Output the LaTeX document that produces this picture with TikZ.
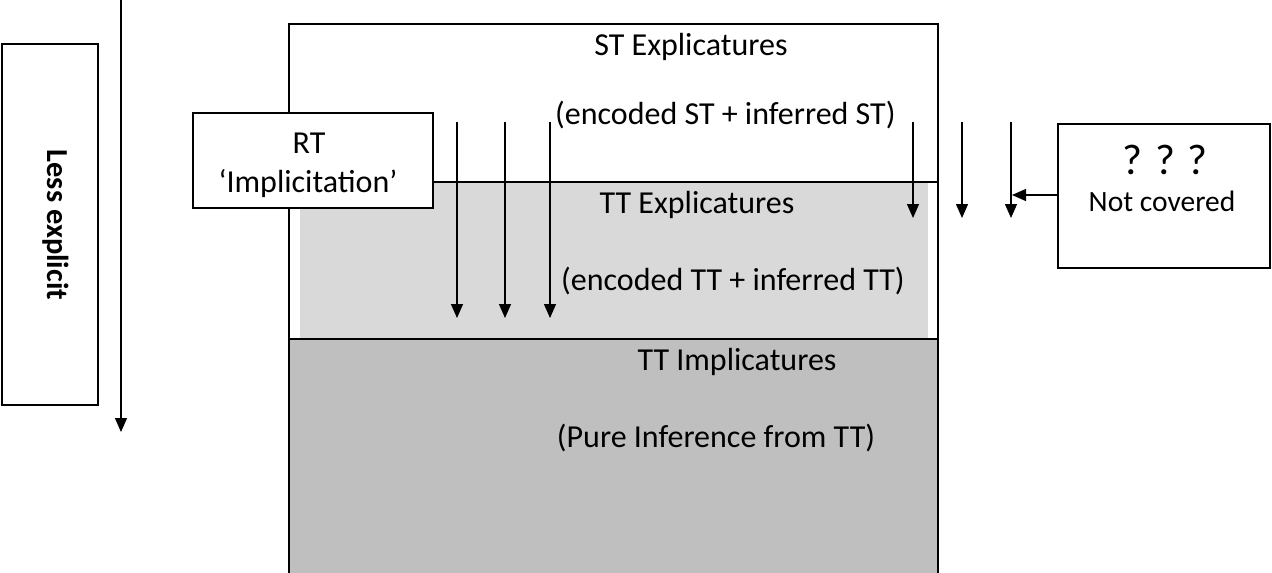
\documentclass[tikz,border=0pt]{standalone}
\usepackage{fontspec}
\setmainfont{Carlito}
\usetikzlibrary{arrows.meta}
\definecolor{lightband}{HTML}{D9D9D9}
\definecolor{darkband}{HTML}{BFBFBF}
\tikzset{
  frame/.style={draw=black, line width=1.6pt},
  label/.style={inner sep=0pt, anchor=base, font=\fontsize{32}{38}\selectfont},
  dnarrow/.style={line width=1.3pt, -{Triangle[width=12pt,length=14pt]}},
  textbox/.style={draw=black, line width=1.6pt, fill=white, inner sep=0pt}
}
\begin{document}
\begin{tikzpicture}[x=1pt, y=-1pt]
\useasboundingbox (0,0) rectangle (1272,573);

% shaded bands
\fill[lightband] (300,183) rectangle (928,338);
\fill[darkband] (289,339) rectangle (938,573);

% outer frame of the layered box (open at the bottom)
\draw[frame] (289,573) -- (289,24) -- (938,24) -- (938,573);
\draw[frame] (433,182) -- (938,182);
\draw[frame] (289,339) -- (938,339);

% layer labels
\node[label] (st) at (691,55) {ST Explicatures};
\node[label, anchor=base west] (stsub) at (555,124) {(encoded ST + inferred ST)};
\node[label] (tt) at (697,213) {TT Explicatures};
\node[label, anchor=base west] (ttsub) at (561,290) {(encoded TT + inferred TT)};
\node[label] (impl) at (737,370) {TT Implicatures};
\node[label] (pure) at (716,447) {(Pure Inference from TT)};

% side boxes
\node[textbox, minimum width=96pt, minimum height=361pt] (less) at (50,224.5) {};
\node[label, rotate=-90, font=\fontsize{30.5}{36}\selectfont\bfseries] (lesstxt) at (47,225) {Less explicit};
\node[textbox, minimum width=240pt, minimum height=95pt] (rt) at (313,160.5) {};
\node[label] (rt1) at (309,153) {RT};
\node[label] (rt2) at (308,192) {‘Implicitation’};
\node[textbox, minimum width=212pt, minimum height=144pt] (nc) at (1164,196) {};
\node[label, font=\fontsize{43}{48}\selectfont] (q) at (1165,174) {? ? ?};
\node[label, font=\fontsize{29.5}{35}\selectfont] (nc1) at (1162,211) {Not covered};

% arrows
\coordinate (la0) at (121,0);
\coordinate (la1) at (121,432);
\draw[dnarrow] (la0) -- (la1);

\foreach \x [count=\i] in {457,505,550} {
  \coordinate (a\i s) at (\x,122);
  \coordinate (a\i e) at (\x,318);
  \draw[dnarrow] (a\i s) -- (a\i e);
}
\foreach \x [count=\i] in {913,962,1011} {
  \coordinate (b\i s) at (\x,122);
  \coordinate (b\i e) at (\x,218);
  \draw[dnarrow] (b\i s) -- (b\i e);
}
\coordinate (hit) at (1012,195);
\draw[dnarrow] (nc.west |- hit) -- (hit);
\end{tikzpicture}
\end{document}
